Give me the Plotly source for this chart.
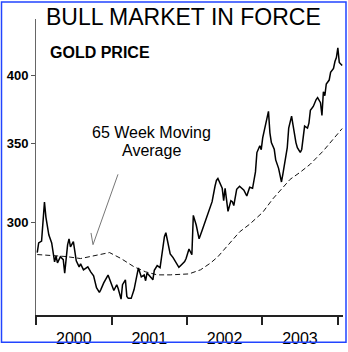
import numpy as np
import pandas as pd
import plotly.graph_objects as go

# Weekly gold price (USD/oz), weeks counted from 2000-01-07
price_week = [
    0, 1, 3, 5, 6, 8, 10, 11, 12, 13, 14, 16, 18, 19, 20, 21, 22, 23, 25, 26,
    27, 29, 30, 32, 35, 37, 39, 41, 43, 44, 46, 49, 51, 53, 55, 56, 58, 59, 61, 62,
    63, 65, 67, 69, 70, 72, 74, 75, 76, 79, 80, 81, 83, 85, 88, 89, 90, 92, 94, 96,
    98, 100, 102, 103, 105, 107, 108, 110, 112, 114, 116, 118, 120, 121, 123, 124, 125, 127, 128, 129,
    130, 132, 134, 135, 136, 138, 140, 143, 145, 147, 149, 151, 152, 154, 155, 156, 158, 159, 160, 161,
    162, 164, 165, 167, 169, 170, 171, 173, 174, 176, 177, 178, 179, 180, 182, 183, 184, 185, 187, 188,
    189, 191, 193, 194, 196, 197, 198, 199, 200, 202, 203, 205, 206, 207, 208, 209, 211,
]
price = [
    282.6, 288.0, 289.0, 312.0, 303.0, 292.6, 288.0, 282.6, 277.5, 280.8, 276.9, 280.3, 278.7, 271.4, 279.2, 286.9, 290.3, 285.8, 288.7, 283.1,
    278.1, 274.8, 276.4, 273.2, 274.8, 272.1, 270.0, 263.8, 261.3, 262.8, 266.3, 270.4, 266.3, 262.3, 265.3, 263.3, 257.9, 265.3, 267.9, 259.3,
    258.3, 258.3, 262.8, 270.4, 274.2, 269.4, 270.4, 267.4, 271.5, 268.9, 267.9, 272.9, 275.5, 274.4, 291.5, 293.8, 289.8, 281.9, 279.8, 277.1,
    274.5, 276.1, 277.7, 279.3, 284.6, 281.4, 304.0, 298.3, 290.3, 294.9, 300.0, 304.0, 309.9, 312.3, 321.9, 325.6, 326.8, 323.0, 320.6, 312.9,
    320.6, 306.4, 312.9, 312.3, 309.9, 320.0, 321.9, 319.4, 315.8, 321.3, 320.6, 331.1, 343.9, 348.5, 345.9, 353.9, 362.2, 367.8, 372.9, 357.5,
    350.7, 346.1, 339.0, 333.4, 324.6, 329.8, 336.5, 347.2, 360.8, 369.4, 362.9, 355.9, 350.7, 347.2, 344.0, 346.0, 353.9, 362.2, 360.8, 364.3,
    373.6, 376.5, 381.6, 383.1, 379.3, 369.9, 387.5, 384.5, 393.5, 396.5, 402.6, 405.7, 411.2, 414.4, 422.4, 410.4, 408.0,
]

# 65 week moving average
ma_week = [0, 10, 20, 30, 41, 50, 58, 67, 75, 83, 92, 105, 113, 120, 125, 134, 140, 147,
           156, 163, 169, 175, 182, 189, 198, 205, 211]
ma_price = [281.5, 280.9, 280.4, 279.3, 280.9, 282.6, 279.3, 274.8, 272.1, 270.5, 270.5, 271.0, 273.2, 276.9, 280.3, 288.7, 294.3, 298.8,
            305.8, 314.0, 320.1, 326.3, 330.9, 336.2, 345.1, 353.1, 360.5]

y_ticks = [300, 350, 400]

start = pd.Timestamp("2000-01-07")
price_dates = start + pd.to_timedelta(7 * np.array(price_week), unit="D")
ma_dates = start + pd.to_timedelta(7 * np.array(ma_week), unit="D")

W, H = 348, 352
ML, MR, MT, MB = 36, 5, 19, 30
PW, PH = W - ML - MR, H - MT - MB


def px(x):
    return (x - ML) / PW


def py(y):
    return (H - MB - y) / PH


fig = go.Figure()
fig.add_trace(go.Scatter(x=ma_dates, y=ma_price, mode="lines",
                         line=dict(color="#111111", width=1, dash="5px,3px"),
                         hoverinfo="skip"))
fig.add_trace(go.Scatter(x=price_dates, y=price, mode="lines",
                         line=dict(color="#000000", width=1.5),
                         hoverinfo="skip"))

font = "Liberation Sans, Arial, sans-serif"

annotations = [
    dict(text="BULL MARKET IN FORCE", x=px(183), y=py(17), xref="paper", yref="paper",
         xanchor="center", yanchor="middle", showarrow=False,
         font=dict(family=font, size=23, color="#000000")),
    dict(text="<b>GOLD PRICE</b>", x=px(48), y=py(53), xref="paper", yref="paper",
         xanchor="left", yanchor="middle", showarrow=False,
         font=dict(family=font, size=16, color="#000000")),
    dict(text="65 Week Moving", x=px(151), y=py(135), xref="paper", yref="paper",
         xanchor="center", yanchor="middle", showarrow=False,
         font=dict(family=font, size=16, color="#000000")),
    dict(text="Average", x=px(151), y=py(154), xref="paper", yref="paper",
         xanchor="center", yanchor="middle", showarrow=False,
         font=dict(family=font, size=16, color="#000000")),
]

shapes = [
    # pointer from the label to the moving average line
    dict(type="path", xref="paper", yref="paper",
         path=f"M {px(118)},{py(178)} L {px(93)},{py(250)} L {px(91)},{py(238)}",
         line=dict(color="#777777", width=1)),
    # blue frame around the whole figure
    dict(type="rect", xref="paper", yref="paper",
         x0=px(1.5), x1=px(346), y0=py(350), y1=py(1.5),
         line=dict(color="#2244ff", width=1.5), layer="above"),
]

fig.update_layout(
    width=W, height=H,
    margin=dict(l=ML, r=MR, t=MT, b=MB),
    paper_bgcolor="white", plot_bgcolor="white",
    showlegend=False,
    annotations=annotations,
    shapes=shapes,
    xaxis=dict(
        type="date",
        range=["2000-01-01", "2004-01-27"],
        tick0="2000-01-01", dtick="M12", tickformat="%Y",
        ticklabelmode="period",
        ticks="outside", ticklen=8, tickwidth=1.5, tickcolor="#222222",
        showline=True, linecolor="#222222", linewidth=1.5,
        showgrid=False, zeroline=False,
        tickfont=dict(family=font, size=16, color="#000000"),
    ),
    yaxis=dict(
        type="log",
        range=[np.log10(250), np.log10(447)],
        tickvals=y_ticks, ticktext=[f"<b>{v}</b>" for v in y_ticks],
        ticks="outside", ticklen=4, tickcolor="#555555", tickwidth=1,
        showline=True, linecolor="#666666", linewidth=1,
        showgrid=False, zeroline=False,
        tickfont=dict(family=font, size=13, color="#000000"),
    ),
)

fig.write_html("out.html")
